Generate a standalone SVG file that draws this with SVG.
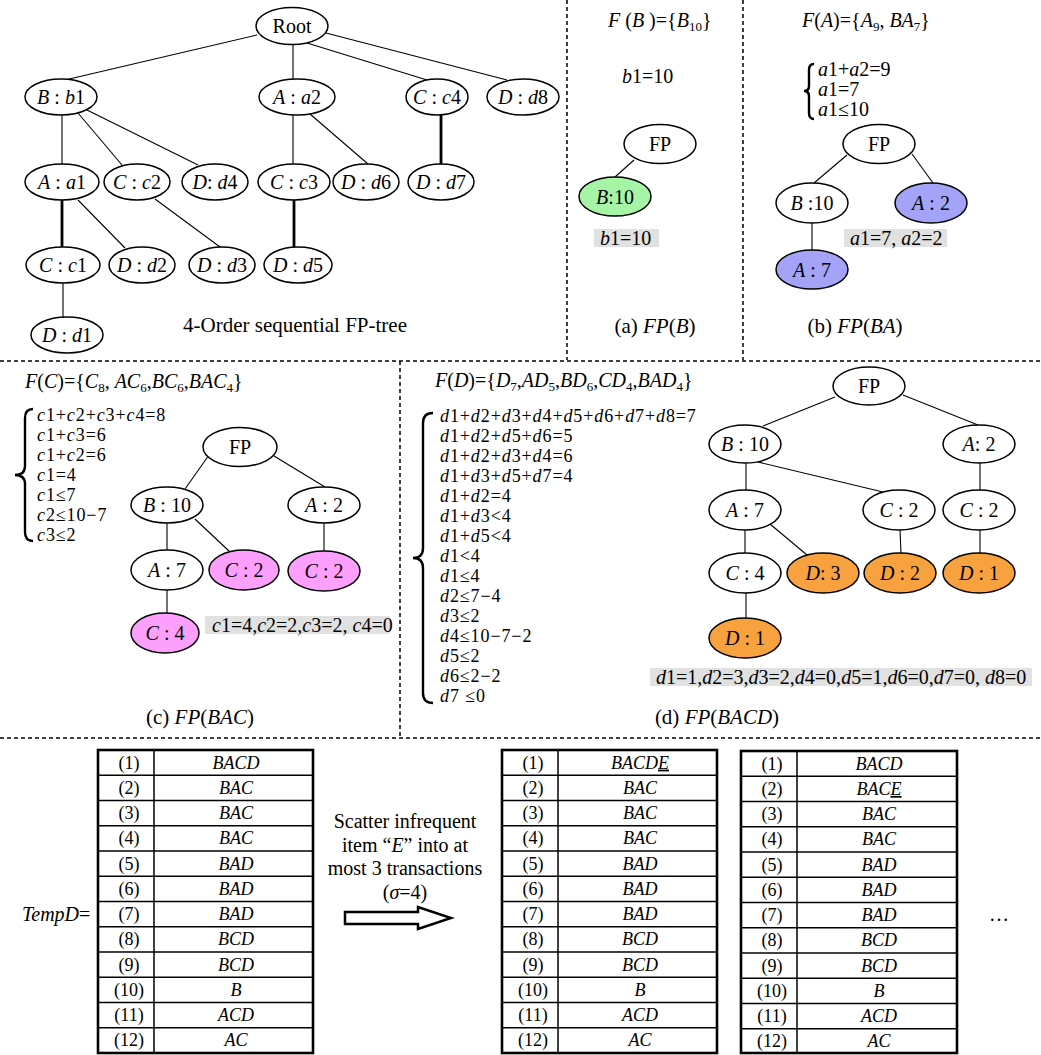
<svg xmlns="http://www.w3.org/2000/svg" width="1041" height="1055" viewBox="0 0 1041 1055" font-family="'Liberation Serif','Times New Roman',serif">
<style>
text{font-family:"Liberation Serif","Times New Roman",serif;fill:#000}
.i{font-style:italic}
.n{fill:#fff;stroke:#000;stroke-width:1.5}
.gr{fill:#a6f5a6}
.bl{fill:#a3a3f7}
.pk{fill:#fda0fd}
.or{fill:#f8a23f}
.lb{font-size:20px;text-anchor:middle}
.eq{font-size:20px}
.eqs{font-size:18px;letter-spacing:0.9px}
.cap{font-size:21px;text-anchor:middle}
.tb{font-size:18px;text-anchor:middle}
.e{stroke:#000;stroke-width:1.1;fill:none}
.t{stroke-width:2.8}
.dash{stroke:#000;stroke-width:1.5;stroke-dasharray:4 3;fill:none}
.box{fill:#e1e1e1}
.brace{fill:none;stroke:#000;stroke-width:2.4}
.sub{font-size:13px}
.tbl{fill:none;stroke:#000;stroke-width:2.6}
.tl{stroke:#000;stroke-width:1.5}
</style>
<rect width="1041" height="1055" fill="#fff"/>

<g id="dividers">
<line class="dash" x1="567" y1="0" x2="567" y2="360"/>
<line class="dash" x1="743" y1="0" x2="743" y2="360"/>
<line class="dash" x1="0" y1="361" x2="1041" y2="361"/>
<line class="dash" x1="400" y1="361" x2="400" y2="738"/>
<line class="dash" x1="0" y1="738" x2="1041" y2="738"/>
</g>

<g id="connectors">
<line class="e" x1="257" y1="35" x2="65" y2="80"/>
<line class="e" x1="293" y1="44" x2="293" y2="79"/>
<line class="e" x1="307" y1="43" x2="427" y2="80"/>
<line class="e" x1="326" y1="33" x2="507" y2="80"/>
<line class="e" x1="62" y1="115" x2="62" y2="164"/>
<line class="e" x1="78" y1="113" x2="122" y2="165"/>
<line class="e" x1="87" y1="110" x2="198" y2="165"/>
<line class="e" x1="293" y1="115" x2="293" y2="164"/>
<line class="e" x1="310" y1="114" x2="368" y2="164"/>
<line class="e t" x1="441" y1="115" x2="441" y2="164"/>
<line class="e t" x1="62" y1="200" x2="62" y2="247"/>
<line class="e" x1="78" y1="200" x2="125" y2="248"/>
<line class="e" x1="155" y1="199" x2="220" y2="247"/>
<line class="e t" x1="294" y1="200" x2="294" y2="247"/>
<line class="e" x1="63" y1="283" x2="63" y2="317"/>
<line class="e" x1="634" y1="160" x2="615" y2="177"/>
<line class="e" x1="847" y1="155" x2="814" y2="183"/>
<line class="e" x1="912" y1="154" x2="933" y2="183"/>
<line class="e" x1="812" y1="223" x2="812" y2="250"/>
<line class="e" x1="209" y1="455" x2="185" y2="489"/>
<line class="e" x1="274" y1="456" x2="325" y2="487"/>
<line class="e" x1="167" y1="523" x2="167" y2="550"/>
<line class="e" x1="195" y1="519" x2="230" y2="552"/>
<line class="e" x1="324" y1="523" x2="324" y2="551"/>
<line class="e" x1="167" y1="590" x2="167" y2="613"/>
<line class="e" x1="835" y1="397" x2="763" y2="426"/>
<line class="e" x1="903" y1="395" x2="978" y2="425"/>
<line class="e" x1="746" y1="463" x2="746" y2="490"/>
<line class="e" x1="758" y1="462" x2="883" y2="492"/>
<line class="e" x1="980" y1="463" x2="980" y2="490"/>
<line class="e" x1="745" y1="530" x2="745" y2="553"/>
<line class="e" x1="770" y1="524" x2="807" y2="555"/>
<line class="e" x1="900" y1="530" x2="901" y2="553"/>
<line class="e" x1="980" y1="530" x2="980" y2="553"/>
<line class="e" x1="746" y1="593" x2="746" y2="618"/>
<polygon points="345,912 418,912 418,907 451,918 418,929 418,924 345,924" fill="#fff" stroke="#000" stroke-width="2.5"/>
</g>

<g id="root"><ellipse class="n" cx="292" cy="26" rx="36" ry="18.5"/><text class="lb" x="292" y="33">Root</text></g>
<g id="t-b1"><ellipse class="n" cx="61" cy="97" rx="36" ry="18"/><text class="lb" x="61" y="104"><tspan class="i">B</tspan> : <tspan class="i">b</tspan>1</text></g>
<g id="t-a2"><ellipse class="n" cx="297" cy="97" rx="38" ry="18"/><text class="lb" x="297" y="104"><tspan class="i">A</tspan> : <tspan class="i">a</tspan>2</text></g>
<g id="t-c4"><ellipse class="n" cx="437" cy="97" rx="31" ry="18"/><text class="lb" x="437" y="104"><tspan class="i">C</tspan> : <tspan class="i">c</tspan>4</text></g>
<g id="t-d8"><ellipse class="n" cx="523" cy="97" rx="36" ry="18"/><text class="lb" x="523" y="104"><tspan class="i">D</tspan> : <tspan class="i">d</tspan>8</text></g>
<g id="t-a1"><ellipse class="n" cx="62" cy="182" rx="37" ry="18"/><text class="lb" x="62" y="189"><tspan class="i">A</tspan> : <tspan class="i">a</tspan>1</text></g>
<g id="t-c2"><ellipse class="n" cx="137" cy="182" rx="33" ry="18"/><text class="lb" x="137" y="189"><tspan class="i">C</tspan> : <tspan class="i">c</tspan>2</text></g>
<g id="t-d4"><ellipse class="n" cx="215" cy="182" rx="33" ry="18"/><text class="lb" x="215" y="189"><tspan class="i">D</tspan>: <tspan class="i">d</tspan>4</text></g>
<g id="t-c3"><ellipse class="n" cx="294" cy="182" rx="36" ry="18"/><text class="lb" x="294" y="189"><tspan class="i">C</tspan> : <tspan class="i">c</tspan>3</text></g>
<g id="t-d6"><ellipse class="n" cx="366" cy="182" rx="33" ry="18"/><text class="lb" x="366" y="189"><tspan class="i">D</tspan> : <tspan class="i">d</tspan>6</text></g>
<g id="t-d7"><ellipse class="n" cx="441" cy="182" rx="33" ry="18"/><text class="lb" x="441" y="189"><tspan class="i">D</tspan> : <tspan class="i">d</tspan>7</text></g>
<g id="t-c1"><ellipse class="n" cx="63" cy="265" rx="37" ry="18"/><text class="lb" x="63" y="272"><tspan class="i">C</tspan> : <tspan class="i">c</tspan>1</text></g>
<g id="t-d2"><ellipse class="n" cx="142" cy="265" rx="33" ry="18"/><text class="lb" x="142" y="272"><tspan class="i">D</tspan> : <tspan class="i">d</tspan>2</text></g>
<g id="t-d3"><ellipse class="n" cx="222" cy="265" rx="33" ry="18"/><text class="lb" x="222" y="272"><tspan class="i">D</tspan> : <tspan class="i">d</tspan>3</text></g>
<g id="t-d5"><ellipse class="n" cx="298" cy="265" rx="34" ry="18"/><text class="lb" x="298" y="272"><tspan class="i">D</tspan> : <tspan class="i">d</tspan>5</text></g>
<g id="t-d1"><ellipse class="n" cx="67" cy="335" rx="36" ry="18"/><text class="lb" x="67" y="342"><tspan class="i">D</tspan> : <tspan class="i">d</tspan>1</text></g>
<text class="cap" x="295" y="332">4-Order sequential FP-tree</text>

<text class="eq" x="608" y="27"><tspan class="i">F</tspan> (<tspan class="i">B</tspan> )={<tspan class="i">B</tspan><tspan class="sub" dy="4">10</tspan><tspan dy="-4">}</tspan></text>
<text class="eq" x="622" y="83"><tspan class="i">b</tspan>1=10</text>
<g id="a-fp"><ellipse class="n" cx="660" cy="144" rx="36" ry="19.5"/><text class="lb" x="660" y="151">FP</text></g>
<g id="a-b10"><ellipse class="n gr" cx="615" cy="196.5" rx="36" ry="19.5"/><text class="lb" x="615" y="203.5"><tspan class="i">B</tspan>:10</text></g>
<rect class="box" x="594" y="229" width="65" height="18"/>
<text class="eq" x="600" y="245"><tspan class="i">b</tspan>1=10</text>
<text class="cap" x="655" y="333">(a) <tspan class="i">FP</tspan>(<tspan class="i">B</tspan>)</text>

<text class="eq" x="802" y="27"><tspan class="i">F</tspan>(<tspan class="i">A</tspan>)={<tspan class="i">A</tspan><tspan class="sub" dy="4">9</tspan><tspan dy="-4">, </tspan><tspan class="i">BA</tspan><tspan class="sub" dy="4">7</tspan><tspan dy="-4">}</tspan></text>
<path class="brace" d="M814,64 Q809,64 809,70 L809,86 Q809,91 804,91 Q809,91 809,96 L809,113 Q809,119 814,119"/>
<text class="eq" x="818" y="76"><tspan class="i">a</tspan>1+<tspan class="i">a</tspan>2=9</text>
<text class="eq" x="818" y="96"><tspan class="i">a</tspan>1=7</text>
<text class="eq" x="818" y="116"><tspan class="i">a</tspan>1≤10</text>
<g id="b-fp"><ellipse class="n" cx="879" cy="144" rx="36" ry="19.5"/><text class="lb" x="879" y="151">FP</text></g>
<g id="b-b10"><ellipse class="n" cx="812" cy="203" rx="36" ry="20"/><text class="lb" x="812" y="210"><tspan class="i">B</tspan> :10</text></g>
<g id="b-a2"><ellipse class="n bl" cx="931" cy="203" rx="36" ry="20"/><text class="lb" x="931" y="210"><tspan class="i">A</tspan> : 2</text></g>
<g id="b-a7"><ellipse class="n bl" cx="812" cy="269.5" rx="36" ry="19.5"/><text class="lb" x="812" y="276.5"><tspan class="i">A</tspan> : 7</text></g>
<rect class="box" x="844" y="229" width="103" height="18"/>
<text class="eq" x="850" y="245"><tspan class="i">a</tspan>1=7, <tspan class="i">a</tspan>2=2</text>
<text class="cap" x="855" y="333">(b) <tspan class="i">FP</tspan>(<tspan class="i">BA</tspan>)</text>

<text class="eq" x="25" y="388"><tspan class="i">F</tspan>(<tspan class="i">C</tspan>)={<tspan class="i">C</tspan><tspan class="sub" dy="4">8</tspan><tspan dy="-4">, </tspan><tspan class="i">AC</tspan><tspan class="sub" dy="4">6</tspan><tspan dy="-4">,</tspan><tspan class="i">BC</tspan><tspan class="sub" dy="4">6</tspan><tspan dy="-4">,</tspan><tspan class="i">BAC</tspan><tspan class="sub" dy="4">4</tspan><tspan dy="-4">}</tspan></text>
<path class="brace" d="M33,409 Q25,409 25,418 L25,466 Q25,475 15,475 Q25,475 25,484 L25,532 Q25,541 33,541"/>
<text class="eqs" x="37" y="421"><tspan class="i">c</tspan>1+<tspan class="i">c</tspan>2+<tspan class="i">c</tspan>3+<tspan class="i">c</tspan>4=8</text>
<text class="eqs" x="37" y="441"><tspan class="i">c</tspan>1+<tspan class="i">c</tspan>3=6</text>
<text class="eqs" x="37" y="461"><tspan class="i">c</tspan>1+<tspan class="i">c</tspan>2=6</text>
<text class="eqs" x="37" y="481"><tspan class="i">c</tspan>1=4</text>
<text class="eqs" x="37" y="501"><tspan class="i">c</tspan>1≤7</text>
<text class="eqs" x="37" y="521"><tspan class="i">c</tspan>2≤10−7</text>
<text class="eqs" x="37" y="541"><tspan class="i">c</tspan>3≤2</text>
<g id="c-fp"><ellipse class="n" cx="240" cy="447" rx="37" ry="19.5"/><text class="lb" x="240" y="454">FP</text></g>
<g id="c-b10"><ellipse class="n" cx="167" cy="505" rx="36" ry="18"/><text class="lb" x="167" y="512"><tspan class="i">B</tspan> : 10</text></g>
<g id="c-a2"><ellipse class="n" cx="324" cy="505" rx="36" ry="18"/><text class="lb" x="324" y="512"><tspan class="i">A</tspan> : 2</text></g>
<g id="c-a7"><ellipse class="n" cx="167" cy="570" rx="36" ry="20"/><text class="lb" x="167" y="577"><tspan class="i">A</tspan> : 7</text></g>
<g id="c-c2a"><ellipse class="n pk" cx="244" cy="570" rx="35" ry="20"/><text class="lb" x="244" y="577"><tspan class="i">C</tspan> : 2</text></g>
<g id="c-c2b"><ellipse class="n pk" cx="324" cy="571" rx="36" ry="20"/><text class="lb" x="324" y="578"><tspan class="i">C</tspan> : 2</text></g>
<g id="c-c4"><ellipse class="n pk" cx="165" cy="633" rx="34" ry="20"/><text class="lb" x="165" y="640"><tspan class="i">C</tspan> : 4</text></g>
<rect class="box" x="205" y="616" width="185" height="18"/>
<text class="eq" x="212" y="632"><tspan class="i">c</tspan>1=4,<tspan class="i">c</tspan>2=2,<tspan class="i">c</tspan>3=2, <tspan class="i">c</tspan>4=0</text>
<text class="cap" x="200" y="724">(c) <tspan class="i">FP</tspan>(<tspan class="i">BAC</tspan>)</text>

<text class="eq" x="435" y="387"><tspan class="i">F</tspan>(<tspan class="i">D</tspan>)={<tspan class="i">D</tspan><tspan class="sub" dy="4">7</tspan><tspan dy="-4">,</tspan><tspan class="i">AD</tspan><tspan class="sub" dy="4">5</tspan><tspan dy="-4">,</tspan><tspan class="i">BD</tspan><tspan class="sub" dy="4">6</tspan><tspan dy="-4">,</tspan><tspan class="i">CD</tspan><tspan class="sub" dy="4">4</tspan><tspan dy="-4">,</tspan><tspan class="i">BAD</tspan><tspan class="sub" dy="4">4</tspan><tspan dy="-4">}</tspan></text>
<path class="brace" d="M433,413 Q423,413 423,423 L423,548 Q423,558 413,558 Q423,558 423,568 L423,693 Q423,703 433,703"/>
<text class="eqs" x="440" y="422"><tspan class="i">d</tspan>1+<tspan class="i">d</tspan>2+<tspan class="i">d</tspan>3+<tspan class="i">d</tspan>4+<tspan class="i">d</tspan>5+<tspan class="i">d</tspan>6+<tspan class="i">d</tspan>7+<tspan class="i">d</tspan>8=7</text>
<text class="eqs" x="440" y="442"><tspan class="i">d</tspan>1+<tspan class="i">d</tspan>2+<tspan class="i">d</tspan>5+<tspan class="i">d</tspan>6=5</text>
<text class="eqs" x="440" y="462"><tspan class="i">d</tspan>1+<tspan class="i">d</tspan>2+<tspan class="i">d</tspan>3+<tspan class="i">d</tspan>4=6</text>
<text class="eqs" x="440" y="482"><tspan class="i">d</tspan>1+<tspan class="i">d</tspan>3+<tspan class="i">d</tspan>5+<tspan class="i">d</tspan>7=4</text>
<text class="eqs" x="440" y="502"><tspan class="i">d</tspan>1+<tspan class="i">d</tspan>2=4</text>
<text class="eqs" x="440" y="522"><tspan class="i">d</tspan>1+<tspan class="i">d</tspan>3&lt;4</text>
<text class="eqs" x="440" y="542"><tspan class="i">d</tspan>1+<tspan class="i">d</tspan>5&lt;4</text>
<text class="eqs" x="440" y="562"><tspan class="i">d</tspan>1&lt;4</text>
<text class="eqs" x="440" y="582"><tspan class="i">d</tspan>1≤4</text>
<text class="eqs" x="440" y="602"><tspan class="i">d</tspan>2≤7−4</text>
<text class="eqs" x="440" y="622"><tspan class="i">d</tspan>3≤2</text>
<text class="eqs" x="440" y="642"><tspan class="i">d</tspan>4≤10−7−2</text>
<text class="eqs" x="440" y="662"><tspan class="i">d</tspan>5≤2</text>
<text class="eqs" x="440" y="682"><tspan class="i">d</tspan>6≤2−2</text>
<text class="eqs" x="440" y="702"><tspan class="i">d</tspan>7 ≤0</text>
<g id="d-fp"><ellipse class="n" cx="869" cy="386" rx="36" ry="19"/><text class="lb" x="869" y="393">FP</text></g>
<g id="d-b10"><ellipse class="n" cx="745" cy="444" rx="36" ry="19"/><text class="lb" x="745" y="451"><tspan class="i">B</tspan> : 10</text></g>
<g id="d-a2"><ellipse class="n" cx="979" cy="444" rx="36" ry="19"/><text class="lb" x="979" y="451"><tspan class="i">A</tspan>: 2</text></g>
<g id="d-a7"><ellipse class="n" cx="745" cy="510" rx="36" ry="20"/><text class="lb" x="745" y="517"><tspan class="i">A</tspan> : 7</text></g>
<g id="d-c2a"><ellipse class="n" cx="899" cy="510" rx="36" ry="20"/><text class="lb" x="899" y="517"><tspan class="i">C</tspan> : 2</text></g>
<g id="d-c2b"><ellipse class="n" cx="979" cy="510" rx="36" ry="20"/><text class="lb" x="979" y="517"><tspan class="i">C</tspan> : 2</text></g>
<g id="d-c4"><ellipse class="n" cx="745" cy="573" rx="36" ry="20"/><text class="lb" x="745" y="580"><tspan class="i">C</tspan> : 4</text></g>
<g id="d-d3"><ellipse class="n or" cx="823" cy="573" rx="36" ry="20"/><text class="lb" x="823" y="580"><tspan class="i">D</tspan>: 3</text></g>
<g id="d-d2"><ellipse class="n or" cx="900" cy="573" rx="36" ry="20"/><text class="lb" x="900" y="580"><tspan class="i">D</tspan> : 2</text></g>
<g id="d-d1a"><ellipse class="n or" cx="979" cy="573" rx="36" ry="20"/><text class="lb" x="979" y="580"><tspan class="i">D</tspan> : 1</text></g>
<g id="d-d1b"><ellipse class="n or" cx="745" cy="638" rx="36" ry="20"/><text class="lb" x="745" y="645"><tspan class="i">D</tspan> : 1</text></g>
<rect class="box" x="650" y="668" width="382" height="18"/>
<text class="eq" x="656" y="684"><tspan class="i">d</tspan>1=1,<tspan class="i">d</tspan>2=3,<tspan class="i">d</tspan>3=2,<tspan class="i">d</tspan>4=0,<tspan class="i">d</tspan>5=1,<tspan class="i">d</tspan>6=0,<tspan class="i">d</tspan>7=0, <tspan class="i">d</tspan>8=0</text>
<text class="cap" x="717" y="724">(d) <tspan class="i">FP</tspan>(<tspan class="i">BACD</tspan>)</text>

<text class="eq" x="22" y="921"><tspan class="i">TempD</tspan>=</text>
<text class="eq" x="405" y="828" text-anchor="middle">Scatter infrequent</text>
<text class="eq" x="405" y="852" text-anchor="middle">item “<tspan class="i">E</tspan>” into at</text>
<text class="eq" x="405" y="875" text-anchor="middle">most 3 transactions</text>
<text class="eq" x="405" y="899" text-anchor="middle">(<tspan class="i">σ</tspan>=4)</text>
<text class="eq" x="999" y="921" text-anchor="middle">…</text>

<g id="table1" transform="translate(98,750)">
<rect class="tbl" x="0" y="0" width="215" height="303"/>
<line class="tl" x1="56" y1="0" x2="56" y2="303"/>
<g class="tl"><line x1="0" y1="25.25" x2="215" y2="25.25"/><line x1="0" y1="50.5" x2="215" y2="50.5"/><line x1="0" y1="75.75" x2="215" y2="75.75"/><line x1="0" y1="101" x2="215" y2="101"/><line x1="0" y1="126.25" x2="215" y2="126.25"/><line x1="0" y1="151.5" x2="215" y2="151.5"/><line x1="0" y1="176.75" x2="215" y2="176.75"/><line x1="0" y1="202" x2="215" y2="202"/><line x1="0" y1="227.25" x2="215" y2="227.25"/><line x1="0" y1="252.5" x2="215" y2="252.5"/><line x1="0" y1="277.75" x2="215" y2="277.75"/></g>
<g class="tb"><text x="31" y="18.6">(1)</text><text x="31" y="43.9">(2)</text><text x="31" y="69.1">(3)</text><text x="31" y="94.4">(4)</text><text x="31" y="119.6">(5)</text><text x="31" y="144.9">(6)</text><text x="31" y="170.1">(7)</text><text x="31" y="195.4">(8)</text><text x="31" y="220.6">(9)</text><text x="31" y="245.9">(10)</text><text x="31" y="271.1">(11)</text><text x="31" y="296.4">(12)</text></g>
<g class="tb i"><text x="138" y="18.6">BACD</text><text x="138" y="43.9">BAC</text><text x="138" y="69.1">BAC</text><text x="138" y="94.4">BAC</text><text x="138" y="119.6">BAD</text><text x="138" y="144.9">BAD</text><text x="138" y="170.1">BAD</text><text x="138" y="195.4">BCD</text><text x="138" y="220.6">BCD</text><text x="138" y="245.9">B</text><text x="138" y="271.1">ACD</text><text x="138" y="296.4">AC</text></g>
</g>

<g id="table2" transform="translate(502,750)">
<rect class="tbl" x="0" y="0" width="215" height="303"/>
<line class="tl" x1="56" y1="0" x2="56" y2="303"/>
<g class="tl"><line x1="0" y1="25.25" x2="215" y2="25.25"/><line x1="0" y1="50.5" x2="215" y2="50.5"/><line x1="0" y1="75.75" x2="215" y2="75.75"/><line x1="0" y1="101" x2="215" y2="101"/><line x1="0" y1="126.25" x2="215" y2="126.25"/><line x1="0" y1="151.5" x2="215" y2="151.5"/><line x1="0" y1="176.75" x2="215" y2="176.75"/><line x1="0" y1="202" x2="215" y2="202"/><line x1="0" y1="227.25" x2="215" y2="227.25"/><line x1="0" y1="252.5" x2="215" y2="252.5"/><line x1="0" y1="277.75" x2="215" y2="277.75"/></g>
<g class="tb"><text x="31" y="18.6">(1)</text><text x="31" y="43.9">(2)</text><text x="31" y="69.1">(3)</text><text x="31" y="94.4">(4)</text><text x="31" y="119.6">(5)</text><text x="31" y="144.9">(6)</text><text x="31" y="170.1">(7)</text><text x="31" y="195.4">(8)</text><text x="31" y="220.6">(9)</text><text x="31" y="245.9">(10)</text><text x="31" y="271.1">(11)</text><text x="31" y="296.4">(12)</text></g>
<g class="tb i"><text x="138" y="18.6">BACD<tspan text-decoration="underline">E</tspan></text><text x="138" y="43.9">BAC</text><text x="138" y="69.1">BAC</text><text x="138" y="94.4">BAC</text><text x="138" y="119.6">BAD</text><text x="138" y="144.9">BAD</text><text x="138" y="170.1">BAD</text><text x="138" y="195.4">BCD</text><text x="138" y="220.6">BCD</text><text x="138" y="245.9">B</text><text x="138" y="271.1">ACD</text><text x="138" y="296.4">AC</text></g>
</g>

<g id="table3" transform="translate(741,751)">
<rect class="tbl" x="0" y="0" width="216" height="302"/>
<line class="tl" x1="56" y1="0" x2="56" y2="302"/>
<g class="tl"><line x1="0" y1="25.25" x2="216" y2="25.25"/><line x1="0" y1="50.5" x2="216" y2="50.5"/><line x1="0" y1="75.75" x2="216" y2="75.75"/><line x1="0" y1="101" x2="216" y2="101"/><line x1="0" y1="126.25" x2="216" y2="126.25"/><line x1="0" y1="151.5" x2="216" y2="151.5"/><line x1="0" y1="176.75" x2="216" y2="176.75"/><line x1="0" y1="202" x2="216" y2="202"/><line x1="0" y1="227.25" x2="216" y2="227.25"/><line x1="0" y1="252.5" x2="216" y2="252.5"/><line x1="0" y1="277.75" x2="216" y2="277.75"/></g>
<g class="tb"><text x="31" y="18.6">(1)</text><text x="31" y="43.9">(2)</text><text x="31" y="69.1">(3)</text><text x="31" y="94.4">(4)</text><text x="31" y="119.6">(5)</text><text x="31" y="144.9">(6)</text><text x="31" y="170.1">(7)</text><text x="31" y="195.4">(8)</text><text x="31" y="220.6">(9)</text><text x="31" y="245.9">(10)</text><text x="31" y="271.1">(11)</text><text x="31" y="296.4">(12)</text></g>
<g class="tb i"><text x="138" y="18.6">BACD</text><text x="138" y="43.9">BAC<tspan text-decoration="underline">E</tspan></text><text x="138" y="69.1">BAC</text><text x="138" y="94.4">BAC</text><text x="138" y="119.6">BAD</text><text x="138" y="144.9">BAD</text><text x="138" y="170.1">BAD</text><text x="138" y="195.4">BCD</text><text x="138" y="220.6">BCD</text><text x="138" y="245.9">B</text><text x="138" y="271.1">ACD</text><text x="138" y="296.4">AC</text></g>
</g>
</svg>
